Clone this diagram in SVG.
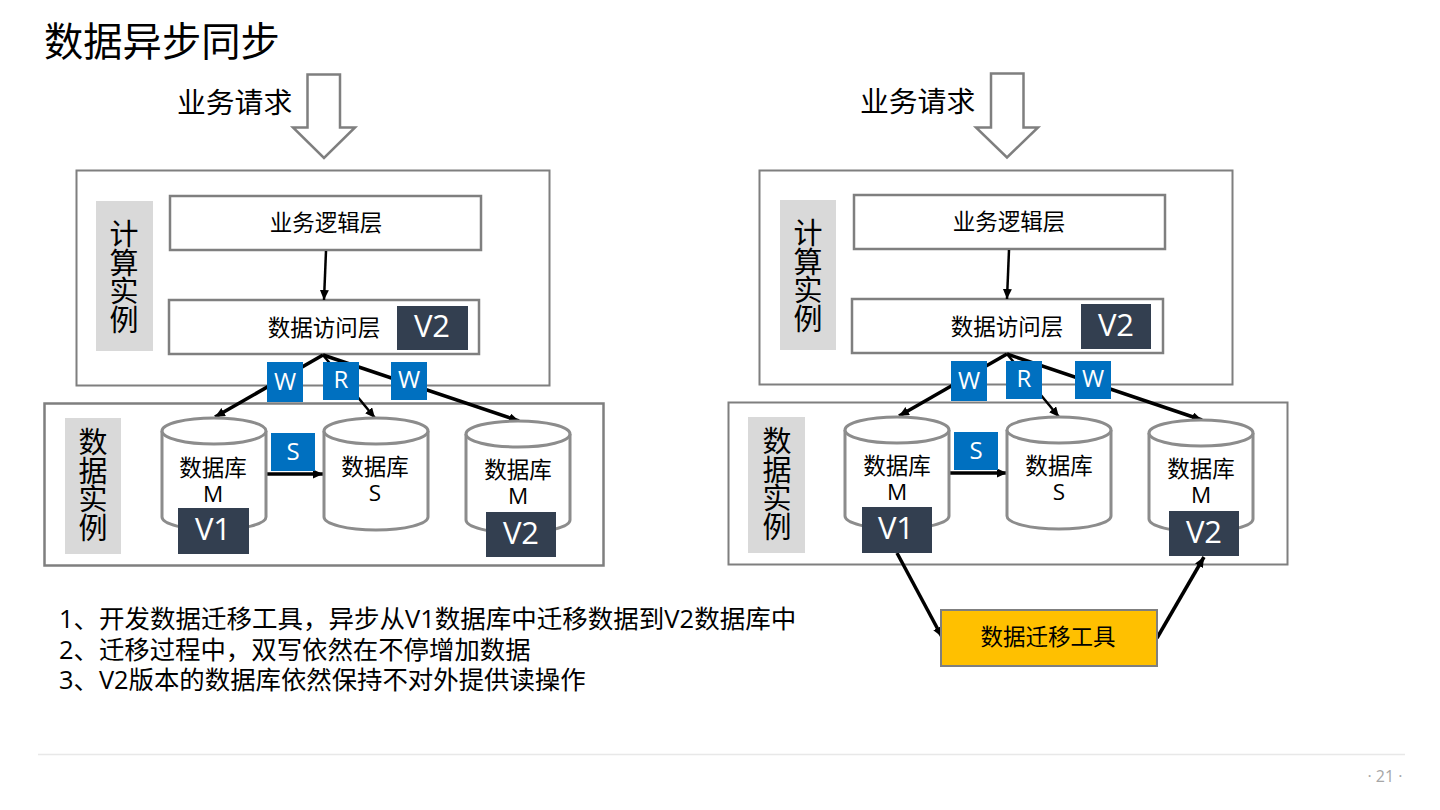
<svg xmlns="http://www.w3.org/2000/svg" width="1440" height="810" viewBox="0 0 1440 810">
<style>
text{font-family:"Open Sans","Noto Sans CJK SC",sans-serif;fill:#000;text-anchor:middle}
.b{fill:#fff;stroke:#7f7f7f;stroke-width:2}
.b3{fill:#fff;stroke:#7f7f7f;stroke-width:2.500}
.g{fill:#d9d9d9}
.v{fill:#333f50}
.v2{fill:#fff;font-size:31px}
.t{fill:#0070c0}
.t2{fill:#fff;font-size:24px}
.c{fill:#fff;stroke:#8c8c8c;stroke-width:3}
.n{font-size:22.500px}
.vl{font-size:29px}
.l{font-size:28.800px;text-anchor:start}
.a{stroke:#000;stroke-width:3.500;fill:none;marker-end:url(#m)}
.a2{stroke:#000;stroke-width:2.500;fill:none;marker-end:url(#m)}
.p{font-size:25.400px;text-anchor:start}
</style>
<defs>
<marker id="m" markerUnits="userSpaceOnUse" markerWidth="12" markerHeight="10" refX="10" refY="4.500" orient="auto"><path d="M0 0L10 4.500L0 9z" fill="#000"/></marker>
</defs>
<text x="44" y="56" style="font-size:39.300px;text-anchor:start">数据异步同步</text>
<g id="request-left"><text x="177" y="113" class="l">业务请求</text><path class="b3" d="M307.500 74.500H340V127.500H355L324 158L293 127.500H307.500Z"/></g>
<g id="request-right"><text x="860" y="112" class="l">业务请求</text><path class="b3" d="M991 73.500H1023.500V127.500H1038L1007 157.500L976 127.500H991Z"/></g>
<g id="compute-left"><rect class="b" x="76.500" y="170.500" width="473" height="215"/><rect class="g" x="96" y="201" width="57" height="150"/><text class="vl"><tspan x="124" y="245">计</tspan><tspan x="124" y="273.500">算</tspan><tspan x="124" y="302">实</tspan><tspan x="124" y="330.500">例</tspan></text></g>
<g id="compute-right"><rect class="b" x="759.500" y="170.500" width="473" height="214"/><rect class="g" x="780" y="200" width="56" height="150"/><text class="vl"><tspan x="808" y="244">计</tspan><tspan x="808" y="272.500">算</tspan><tspan x="808" y="301">实</tspan><tspan x="808" y="329.500">例</tspan></text></g>
<g id="data-left"><rect class="b3" x="44.500" y="403.500" width="559" height="162"/><rect class="g" x="65" y="418" width="56" height="136"/><text class="vl"><tspan x="93" y="453">数</tspan><tspan x="93" y="481.500">据</tspan><tspan x="93" y="510">实</tspan><tspan x="93" y="538.500">例</tspan></text></g>
<g id="data-right"><rect class="b" x="728.500" y="402.500" width="559" height="162"/><rect class="g" x="748" y="417" width="57" height="136"/><text class="vl"><tspan x="777" y="452">数</tspan><tspan x="777" y="480.500">据</tspan><tspan x="777" y="509">实</tspan><tspan x="777" y="537.500">例</tspan></text></g>
<g id="logic-left"><rect class="b3" x="170" y="196" width="311" height="54"/><text x="326" y="231" class="n">业务逻辑层</text></g>
<g id="access-left"><rect class="b3" x="169" y="300" width="310" height="54"/><text x="324" y="336" class="n">数据访问层</text><rect class="v" x="397" y="306" width="71" height="44"/><text x="432" y="337" class="v2">V2</text></g>
<g id="logic-right"><rect class="b3" x="854" y="195" width="311" height="54"/><text x="1009" y="230" class="n">业务逻辑层</text></g>
<g id="access-right"><rect class="b3" x="852" y="299" width="311" height="54"/><text x="1007" y="335" class="n">数据访问层</text><rect class="v" x="1081" y="304" width="70" height="45"/><text x="1116" y="336" class="v2">V2</text></g>
<g id="connectors">
<path class="a2" d="M326 251L324 300"/>
<path class="a" d="M323 355L215 417"/>
<path class="a2" d="M323 355L375 418"/>
<path class="a" d="M323 355L519 421"/>
<path class="a" d="M266 474H323"/>
<path class="a2" d="M1009 250L1007 299"/>
<path class="a" d="M1007 354L899 416"/>
<path class="a2" d="M1007 354L1059 417"/>
<path class="a" d="M1007 354L1202 420"/>
<path class="a" d="M949 473H1007"/>
<path class="a" d="M897 553L942 637"/>
<path class="a" d="M1157 638L1204 557"/>
</g>
<g id="tag-w1-left"><rect class="t" x="267" y="362" width="36" height="40"/><text x="285" y="390" class="t2">W</text></g>
<g id="tag-r-left"><rect class="t" x="323" y="362" width="36" height="38"/><text x="341" y="388" class="t2">R</text></g>
<g id="tag-w2-left"><rect class="t" x="391" y="362" width="36" height="38"/><text x="409" y="388" class="t2">W</text></g>
<g id="tag-w1-right"><rect class="t" x="951" y="361" width="36" height="40"/><text x="969" y="389" class="t2">W</text></g>
<g id="tag-r-right"><rect class="t" x="1006" y="361" width="36" height="38"/><text x="1024" y="387" class="t2">R</text></g>
<g id="tag-w2-right"><rect class="t" x="1075" y="361" width="36" height="38"/><text x="1093" y="387" class="t2">W</text></g>
<g id="db-m1-left"><path class="c" d="M162 431V517C162 524 185 530 214 530S266 524 266 517V431"/><ellipse class="c" cx="214" cy="431" rx="52" ry="13"/><text x="213" y="476" class="n">数据库</text><text x="213" y="502" class="n">M</text><rect class="v" x="178" y="508" width="71" height="46"/><text x="213" y="540" class="v2">V1</text></g>
<g id="db-s-left"><path class="c" d="M324 431V517C324 524 347 530 376 530S428 524 428 517V431"/><ellipse class="c" cx="376" cy="431" rx="52" ry="13"/><text x="375" y="475" class="n">数据库</text><text x="375" y="501" class="n">S</text></g>
<g id="db-m2-left"><path class="c" d="M466 434V520C466 527 489 533 518 533S570 527 570 520V434"/><ellipse class="c" cx="518" cy="434" rx="52" ry="13"/><text x="518" y="478" class="n">数据库</text><text x="518" y="504" class="n">M</text><rect class="v" x="486" y="512" width="70" height="45"/><text x="521" y="544" class="v2">V2</text></g>
<g id="tag-s-left"><rect class="t" x="271" y="433" width="44" height="38"/><text x="293" y="460" class="t2">S</text></g>
<g id="db-m1-right"><path class="c" d="M845 430V516C845 523 868 529 897 529S949 523 949 516V430"/><ellipse class="c" cx="897" cy="430" rx="52" ry="13"/><text x="897" y="474" class="n">数据库</text><text x="897" y="500" class="n">M</text><rect class="v" x="862" y="507" width="70" height="46"/><text x="896" y="539" class="v2">V1</text></g>
<g id="db-s-right"><path class="c" d="M1007 430V516C1007 523 1030 529 1059 529S1111 523 1111 516V430"/><ellipse class="c" cx="1059" cy="430" rx="52" ry="13"/><text x="1059" y="474" class="n">数据库</text><text x="1059" y="500" class="n">S</text></g>
<g id="db-m2-right"><path class="c" d="M1149 433V519C1149 526 1172 532 1201 532S1253 526 1253 519V433"/><ellipse class="c" cx="1201" cy="433" rx="52" ry="13"/><text x="1201" y="477" class="n">数据库</text><text x="1201" y="503" class="n">M</text><rect class="v" x="1169" y="511" width="70" height="45"/><text x="1204" y="543" class="v2">V2</text></g>
<g id="tag-s-right"><rect class="t" x="954" y="432" width="44" height="38"/><text x="976" y="459" class="t2">S</text></g>
<g id="tool"><rect x="941" y="610" width="216" height="56" fill="#ffc000" stroke="#7f7f7f" stroke-width="2"/><text x="1048" y="645" style="font-size:22.500px">数据迁移工具</text></g>
<text x="59" y="628" style="font-size:25.500px;text-anchor:start">1、开发数据迁移工具，异步从V1数据库中迁移数据到V2数据库中</text>
<text x="59" y="659" class="p">2、迁移过程中，双写依然在不停增加数据</text>
<text x="59" y="689" class="p">3、V2版本的数据库依然保持不对外提供读操作</text>
<line x1="38" y1="754.500" x2="1405" y2="754.500" stroke="#e8e8e8" stroke-width="1.500"/>
<text x="1385" y="782" style="font-size:16px;fill:#a6a6a6">· 21 ·</text>
</svg>
